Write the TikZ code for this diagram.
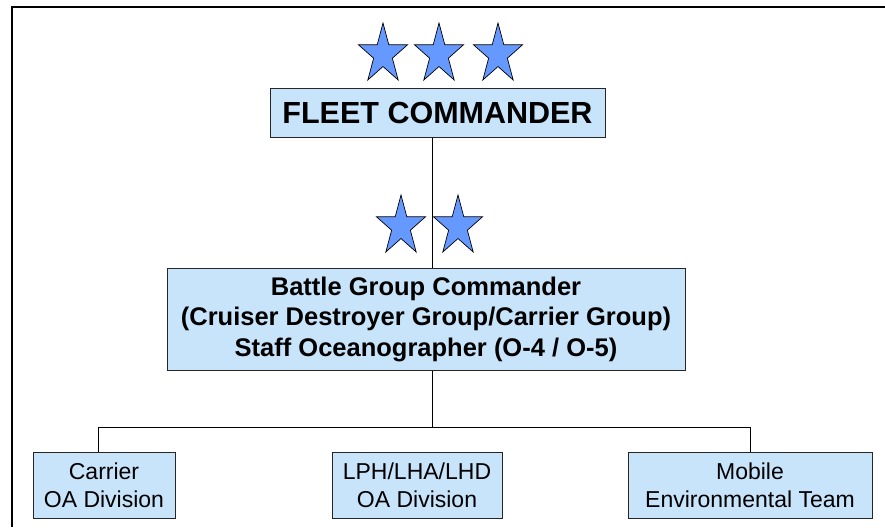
\documentclass[tikz,border=0pt]{standalone}
\usepackage{fontspec}
\setmainfont{Liberation Sans}
\definecolor{starblue}{RGB}{102,153,255}
\definecolor{boxfill}{RGB}{200,228,250}
\begin{document}
\begin{tikzpicture}[x=1pt,y=-1pt,
  orgbox/.style={draw=black!85,line width=1pt,fill=boxfill,inner sep=0pt,align=center,text=black},
  link/.style={draw=black,line width=0.8pt},
  starstyle/.style={draw=black,line width=0.7pt,fill=starblue,line join=miter},
  bigstar/.pic={
    \draw[starstyle] plot[samples at={0,...,9},variable=\k]
      ({ifthenelse(mod(\k,2)==0,1,0.382)*25.8*cos(90+36*\k)},
       {-ifthenelse(mod(\k,2)==0,1,0.382)*31.5*sin(90+36*\k)}) -- cycle;
  }]
\useasboundingbox (0,0) rectangle (885,527);
% frame
\draw[line width=1.8pt] (11.7,527) -- (11.7,6.7) -- (885,6.7);
% stars
\pic at (383,54.5) {bigstar};
\pic at (439,54.5) {bigstar};
\pic at (498,54.5) {bigstar};
\pic at (401,226.5) {bigstar};
\pic at (458,226.5) {bigstar};
% boxes
\node[orgbox,minimum width=335pt,minimum height=49pt,font=\bfseries\fontsize{30.5}{36}\selectfont] (fleet) at (437.5,112.5) {FLEET COMMANDER};
\node[orgbox,minimum width=518pt,minimum height=102pt,font=\bfseries\fontsize{25.5}{30.5}\selectfont] (battle) at (426,319)
  {Battle Group Commander\\(Cruiser Destroyer Group/Carrier Group)\\Staff Oceanographer (O-4 / O-5)};
\node[orgbox,minimum width=142pt,minimum height=66pt,font=\fontsize{23}{28}\selectfont] (carrier) at (104,485) {Carrier\\OA Division};
\node[orgbox,minimum width=170pt,minimum height=66pt,font=\fontsize{23}{28}\selectfont] (lph) at (417,485) {LPH/LHA/LHD\\OA Division};
\node[orgbox,minimum width=244pt,minimum height=66pt,font=\fontsize{23}{28}\selectfont] (mobile) at (750,485) {Mobile\\Environmental Team};
% connectors
\coordinate (spine) at (432,0);
\coordinate (bus) at (432,427.5);
\coordinate (busL) at (98,427.5);
\coordinate (busR) at (750,427.5);
\draw[link] (fleet.south -| spine) -- (battle.north -| spine);
\draw[link] (battle.south -| spine) -- (bus);
\draw[link] (carrier.north -| busL) -- (busL) -- (busR) -- (mobile.north -| busR);
\end{tikzpicture}
\end{document}
